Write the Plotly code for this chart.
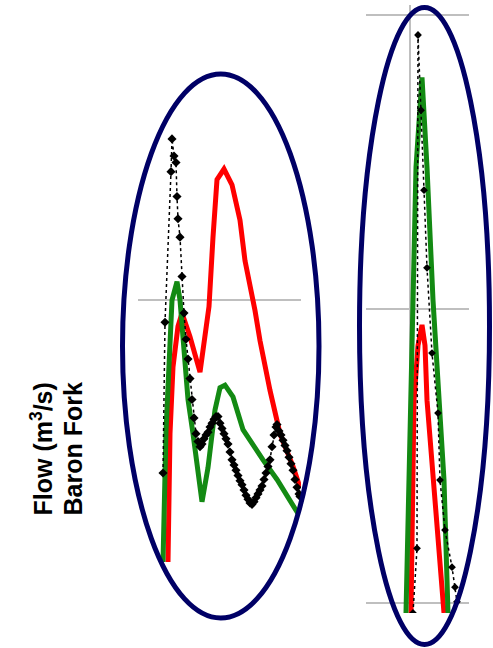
import plotly.graph_objects as go

W, H = 493, 648

# ---------------- Left panel data (hours, m3/s) ----------------
left_obs_t = [25, 27, 33, 34, 36, 38, 39, 40, 42, 44, 46, 48, 50, 52, 54, 56, 58, 60, 62, 64, 66, 68, 70,
              72, 74, 76, 78, 80, 82, 84, 86, 88, 90, 92, 94, 96, 98, 100, 102, 104, 106, 108, 110, 112,
              114, 116, 118, 120, 122, 124, 126, 128, 130, 132, 134, 136, 138, 139, 141, 143, 145, 147,
              149, 151, 153, 155, 157, 159, 161, 162]
left_obs_q = [68, 183, 298, 323, 310, 305, 279, 262, 248, 218, 190, 170, 155, 140, 124, 110, 98, 92, 88,
              90, 94, 97, 99, 103, 106, 109, 111, 111, 106, 102, 98, 94, 90, 84, 78, 74, 70, 66, 62, 59,
              55, 51, 48, 45, 44, 46, 49, 52, 55, 58, 63, 68, 73, 78, 88, 97, 103, 105, 100, 97, 93, 89,
              85, 80, 75, 70, 63, 57, 52, 50]

left_red_t = [30, 32, 35, 40, 44, 52, 62, 71, 75, 79, 86, 94, 102, 107, 117, 122, 132, 142, 155, 162]
left_red_q = [0, 98, 149, 180, 190, 172, 145, 195, 248, 292, 300, 288, 261, 230, 192, 169, 131, 98, 73, 57]

left_grn_t = [25, 28, 34, 39, 42, 50, 55, 60, 64, 70, 77, 82, 87, 95, 105, 125, 139, 160]
left_grn_q = [0, 100, 200, 214, 200, 124, 98, 65, 46, 72, 116, 133, 135, 126, 101, 78, 63, 37]

# ---------------- Right panel data (hours, m3/s) ----------------
right_obs_t = [47, 51, 52, 55, 58, 61, 66, 72, 74, 79, 86, 89, 91]
right_obs_q = [0, 110, 983, 855, 719, 587, 442, 340, 226, 141, 78, 44, 19]

right_red_t = [45, 48, 52, 56, 59, 61, 78]
right_red_q = [0, 362, 455, 490, 455, 362, 0]

right_grn_t = [40, 47, 50, 56, 61, 67, 78, 82]
right_grn_q = [0, 532, 758, 911, 758, 532, 226, 0]

left_grid = [200]
right_grid = [17, 517, 1017]
right_xgrid = [44]

title_lines = ["Flow (m<sup>3</sup>/s)", "Baron Fork"]

RED = "#ff0000"
GREEN = "#138a13"
NAVY = "#000066"
GRID = "#bfbfbf"


def fx(px):
    return px / W


def fy(py):
    return 1 - py / H


fig = go.Figure()

for xa, ya, t_obs, q_obs, t_red, q_red, t_grn, q_grn, msize in [
    ("x", "y", left_obs_t, left_obs_q, left_red_t, left_red_q, left_grn_t, left_grn_q, 7),
    ("x2", "y2", right_obs_t, right_obs_q, right_red_t, right_red_q, right_grn_t, right_grn_q, 6),
]:
    fig.add_trace(go.Scatter(x=t_red, y=q_red, xaxis=xa, yaxis=ya, mode="lines",
                             line=dict(color=RED, width=5), showlegend=False))
    fig.add_trace(go.Scatter(x=t_grn, y=q_grn, xaxis=xa, yaxis=ya, mode="lines",
                             line=dict(color=GREEN, width=5), showlegend=False))
    fig.add_trace(go.Scatter(x=t_obs, y=q_obs, xaxis=xa, yaxis=ya, mode="lines+markers",
                             line=dict(color="black", width=1.5, dash="dot"),
                             marker=dict(symbol="diamond", size=msize, color="black"),
                             showlegend=False))

axis_common = dict(showline=False, zeroline=False, showticklabels=False, ticks="")

fig.update_layout(
    width=W, height=H,
    margin=dict(l=0, r=0, t=0, b=0),
    paper_bgcolor="white", plot_bgcolor="white",
    xaxis=dict(domain=[fx(138), fx(301)], range=[0, 163], showgrid=False, **axis_common),
    yaxis=dict(domain=[fy(562), fy(100)], range=[0, 352.7], tickvals=left_grid,
               showgrid=True, gridcolor=GRID, gridwidth=1.5, **axis_common),
    xaxis2=dict(domain=[fx(366), fx(469)], range=[0, 103], anchor="y2", tickvals=right_xgrid,
                showgrid=True, gridcolor=GRID, gridwidth=1.5, **axis_common),
    yaxis2=dict(domain=[fy(613), fy(5)], range=[0, 1034], anchor="x2", tickvals=right_grid,
                showgrid=True, gridcolor=GRID, gridwidth=1.5, **axis_common),
    shapes=[
        dict(type="circle", xref="paper", yref="paper",
             x0=fx(122.5), x1=fx(319), y0=fy(618), y1=fy(74),
             line=dict(color=NAVY, width=5)),
        dict(type="circle", xref="paper", yref="paper",
             x0=fx(359.5), x1=fx(489.5), y0=fy(644.5), y1=fy(7.5),
             line=dict(color=NAVY, width=5)),
    ],
)

for txt, xc in zip(title_lines, [41, 72]):
    fig.add_annotation(text="<b>" + txt + "</b>", textangle=-90,
                       xref="paper", yref="paper", x=fx(xc), y=fy(518),
                       xanchor="center", yanchor="bottom", showarrow=False,
                       font=dict(family="Liberation Sans, Arial, sans-serif", size=25, color="black"))

fig.write_html("out.html", config={"displayModeBar": False},
               post_script="document.body.style.margin='0';document.body.style.overflow='hidden';")
